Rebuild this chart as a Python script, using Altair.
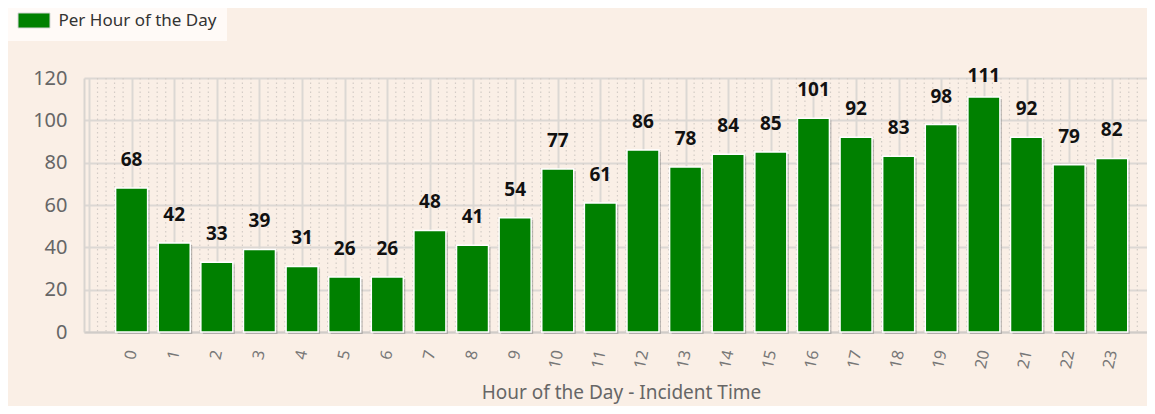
import altair as alt
import pandas as pd
import numpy as np

hours = list(range(24))
counts = [68, 42, 33, 39, 31, 26, 26, 48, 41, 54, 77, 61, 86, 78, 84, 85, 101, 92, 83, 98, 111, 92, 79, 82]
series_name = "Per Hour of the Day"
x_title = "Hour of the Day - Incident Time"
y_ticks = [0, 20, 40, 60, 80, 100, 120]

df = pd.DataFrame({"hour": hours, "count": counts, "series": series_name})

minor = [round(v, 2) for v in np.arange(-1, 23.75, 0.2) if abs(v - round(v)) > 1e-6]
minor_df = pd.DataFrame({"pos": minor})

FONT = "Noto Sans"
xscale = alt.Scale(domain=[-1, 23.71], nice=False, zero=False)
yscale = alt.Scale(domain=[0, 120], nice=False)

x_axis = alt.Axis(
    values=list(range(-1, 24)),
    labelExpr="datum.value < 0 ? '' : datum.label",
    labelAngle=282,
    labelFontSize=16,
    labelColor="#777777",
    labelFont=FONT,
    labelPadding=18,
    ticks=False,
    grid=True,
    gridColor="#dcd8d4",
    gridWidth=2,
    domainColor="#d0ccc8",
    domainWidth=2,
    title=x_title,
    titleFont=FONT,
    titleFontSize=19,
    titleFontWeight="normal",
    titleColor="#666666",
    titleX=537,
    titleAlign="center",
    titleY=60,
    titleBaseline="middle",
)
y_axis = alt.Axis(
    values=y_ticks,
    labelFontSize=20,
    labelColor="#666666",
    labelFont=FONT,
    labelPadding=17,
    ticks=False,
    grid=True,
    gridColor="#dcd8d4",
    gridWidth=2,
    domainColor="#d8d4d0",
    domainWidth=2,
    title=None,
)

minor_layer = alt.Chart(minor_df).mark_rule(
    color="#d3ccc6", strokeDash=[1.5, 3], strokeWidth=1.2
).encode(x=alt.X("pos:Q", scale=xscale, axis=x_axis))

shadow = alt.Chart(df).mark_bar(
    size=32, color="#7a7a7a", opacity=0.45, xOffset=2, yOffset=2
).encode(
    x=alt.X("hour:Q", scale=xscale, axis=x_axis),
    y=alt.Y("count:Q", scale=yscale, axis=y_axis),
)

bars = alt.Chart(df).mark_bar(
    size=32, stroke="white", strokeWidth=1.5
).encode(
    x=alt.X("hour:Q", scale=xscale, axis=x_axis),
    y=alt.Y("count:Q", scale=yscale, axis=y_axis),
    color=alt.Color(
        "series:N",
        scale=alt.Scale(range=["#008000"]),
        legend=alt.Legend(
            title=None,
            orient="none",
            legendX=-76,
            legendY=-76,
            fillColor="#fffaf7",
            padding=10,
            symbolType="M-2,-0.94H2V0.94H-2Z",
            symbolSize=256,
            symbolOffset=7.5,
            symbolOpacity=1,
            symbolStrokeColor="#d8d8d8",
            symbolStrokeWidth=1,
            labelFontSize=17,
            labelColor="#333333",
            labelFont=FONT,
            labelOffset=16,
        ),
    ),
)

labels = alt.Chart(df).transform_calculate(
    ly="min(datum.count, 107.5)"
).mark_text(
    font=FONT, fontSize=19, fontWeight="bold", color="#111111", dy=-28, baseline="middle"
).encode(
    x=alt.X("hour:Q", scale=xscale, axis=x_axis),
    y=alt.Y("ly:Q", scale=yscale, axis=y_axis),
    text="count:Q",
)

chart = alt.layer(minor_layer, shadow, bars, labels).properties(
    width=1063,
    height=254,
    background="#faefe6",
    padding={"left": 76, "top": 70, "right": 0, "bottom": 74},
    autosize=alt.AutoSizeParams(type="none"),
).configure_view(stroke=None, fill="#faefe6")

chart.save("out.html", embed_options={"renderer": "svg", "actions": False})
